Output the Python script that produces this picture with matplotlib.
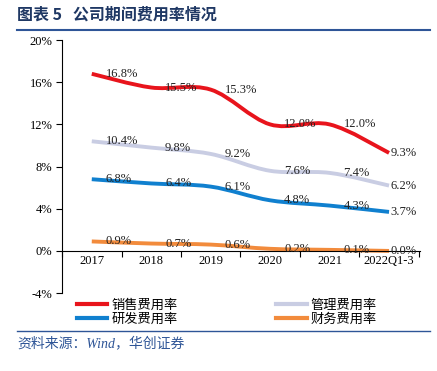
import matplotlib.pyplot as plt
from matplotlib.path import Path
from matplotlib.patches import PathPatch
from matplotlib.lines import Line2D

plt.rcParams['font.family'] = ['Liberation Serif', 'Noto Sans CJK SC']

years = ['2017', '2018', '2019', '2020', '2021', '2022Q1-3']
names = ['销售费用率', '管理费用率', '研发费用率', '财务费用率']
sales = [16.8, 15.5, 15.3, 12.0, 12.0, 9.3]
admin = [10.4, 9.8, 9.2, 7.6, 7.4, 6.2]
rnd = [6.8, 6.4, 6.1, 4.8, 4.3, 3.7]
fin = [0.9, 0.7, 0.6, 0.2, 0.1, 0.0]
colors = ['#e8141c', '#c9cde3', '#1080cf', '#f28b3c']
yticks = [-4, 0, 4, 8, 12, 16, 20]


def smoothPath(xs, ys):
  # catmull-rom style bezier through the points (like excel smoothed lines)
  verts = [(xs[0], ys[0])]
  codes = [Path.MOVETO]
  n = len(xs)
  for i in range(n - 1):
    x0, y0 = (xs[i - 1], ys[i - 1]) if i > 0 else (xs[i], ys[i])
    x1, y1 = xs[i], ys[i]
    x2, y2 = xs[i + 1], ys[i + 1]
    x3, y3 = (xs[i + 2], ys[i + 2]) if i + 2 < n else (x2, y2)
    c1 = (x1 + (x2 - x0) / 6, y1 + (y2 - y0) / 6)
    c2 = (x2 - (x3 - x1) / 6, y2 - (y3 - y1) / 6)
    verts += [c1, c2, (x2, y2)]
    codes += [Path.CURVE4] * 3
  return Path(verts, codes)


fig = plt.figure(figsize=(4.37, 3.71), dpi=100)
ax = fig.add_axes([0.142, 0.21, 0.819, 0.682])

xs = list(range(len(years)))
for vals, c in zip([sales, admin, rnd, fin], colors):
  ax.add_patch(PathPatch(smoothPath(xs, vals), facecolor='none', edgecolor=c,
                         lw=2.8, capstyle='butt', zorder=2))
  for x, v in zip(xs, vals):
    dx = 1 if x == xs[-1] else 10
    ax.annotate('%.1f%%' % v, (x, v), xytext=(dx, 0), textcoords='offset points',
                ha='left', va='center', fontsize=9, color='#222222', zorder=3)

ax.set_xlim(-0.47, 5.52)
ax.set_ylim(-4, 20)
ax.set_yticks(yticks)
ax.set_yticklabels(['%d%%' % t for t in yticks], fontsize=9)
ax.tick_params(axis='y', direction='out', length=4, width=0.8, pad=3)

# category axis drawn at 0 with ticks between categories
ax.spines['top'].set_visible(False)
ax.spines['right'].set_visible(False)
ax.spines['bottom'].set_position(('data', 0))
ax.set_xticks([x - 0.5 for x in xs] + [5.5])
ax.set_xticklabels([])
ax.tick_params(axis='x', direction='out', length=4, width=0.8)
for x, lab in zip(xs, years):
  ax.text(x, -1.0, lab, ha='center', va='center', fontsize=9)
for s in ['left', 'bottom']:
  ax.spines[s].set_linewidth(0.8)

# matplotlib fills legend columns first, so reorder to get rows like the original
order = [0, 2, 1, 3]
handles = [Line2D([], [], color=colors[i], lw=3) for i in order]
leg = fig.legend(handles, [names[i] for i in order], loc='upper left',
                 bbox_to_anchor=(0.176, 0.195), ncol=2, frameon=False,
                 prop={'family': 'Noto Sans CJK SC', 'size': 9.5},
                 handlelength=2.3, handletextpad=0.3, columnspacing=7.5, labelspacing=0.08,
                 borderaxespad=0, borderpad=0)

fig.text(0.04, 0.962, '图表 5   公司期间费用率情况', ha='left', va='center',
         fontsize=11.5, fontweight='bold', color='#1f3864', family='Noto Sans CJK SC')
fig.add_artist(Line2D([0.04, 0.985], [0.92, 0.92], color='#2e5597', lw=1.5))
fig.add_artist(Line2D([0.04, 0.985], [0.108, 0.108], color='#2e5597', lw=1.0))
fig.text(0.04, 0.076, '资料来源：Wind，华创证券', ha='left', va='center',
         fontsize=10, style='italic', color='#2e5597',
         family=['Liberation Serif', 'Noto Sans CJK SC'])

fig.savefig('out.png', dpi=100)
